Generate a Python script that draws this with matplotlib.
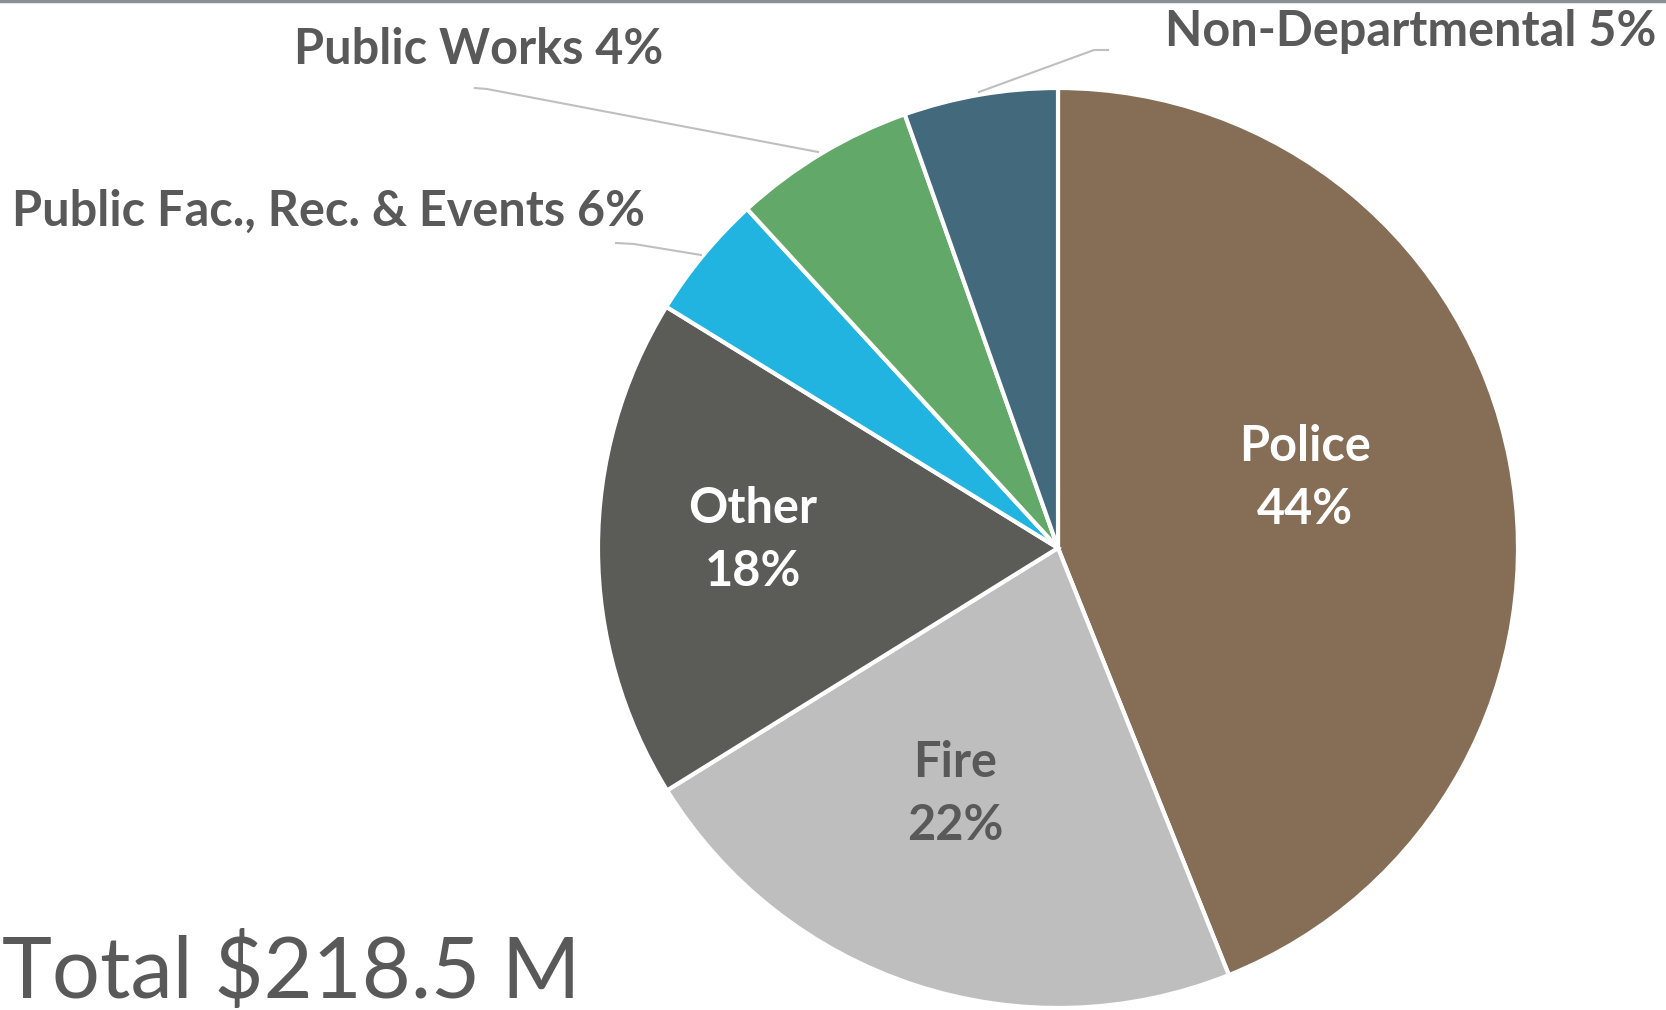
import matplotlib.pyplot as plt

# budget shares (percent of total), clockwise from 12 o'clock
depts = ['Police', 'Fire', 'Other', 'Public Fac., Rec. & Events', 'Public Works', 'Non-Departmental']
shares = [43.9, 22.2, 17.6, 4.4, 6.4, 5.4]
shown_pct = ['44%', '22%', '18%', '6%', '4%', '5%']
colors = ['#866D55', '#BEBEBE', '#5B5C58', '#22B4E1', '#62A868', '#43697D']
total_text = 'Total $218.5 M'

W, H = 1666, 1010
fig = plt.figure(figsize=(W / 100, H / 100), dpi=100)
ax = fig.add_axes([0, 0, 1, 1])

cx, cy, r = 1058, H - 548, 460
ax.pie(shares, colors=colors, startangle=90, counterclock=False,
       center=(cx, cy), radius=r, frame=True,
       wedgeprops=dict(edgecolor='white', linewidth=3))
ax.set_xlim(0, W)
ax.set_ylim(0, H)
ax.axis('off')

font = 'Lato'
grey = '#595959'
fs = 35

# labels inside wedges
inside = {0: (1305, 478, 'white'), 1: (955, 794, grey), 2: (753, 540, 'white')}
for i, (x, yimg, c) in inside.items():
    ax.text(x, H - yimg, depts[i] + '\n' + shown_pct[i], ha='center', va='center',
            fontsize=fs, fontweight='bold', color=c, family=font, linespacing=1.5)

# outside labels with leader lines
outside = {
    5: ((1411, 32), [(1108, 50), (1094, 50), (979, 92)]),
    4: ((479, 50), [(475, 88), (487, 89), (818, 152)]),
    3: ((329, 211), [(616, 243), (634, 244), (701, 255)]),
}
for i, ((tx, ty), pts) in outside.items():
    ax.text(tx, H - ty, depts[i] + ' ' + shown_pct[i], ha='center', va='center',
            fontsize=fs, fontweight='bold', color=grey, family=font)
    ax.plot([p[0] for p in pts], [H - p[1] for p in pts], color='#BFBFBF', lw=1.5)

ax.text(2, H - 998, total_text, ha='left', va='baseline', fontsize=61,
        color=grey, family=font)

ax.axhline(H - 1, color='#8A8F94', lw=2.5)

fig.savefig('out.png', dpi=100)
